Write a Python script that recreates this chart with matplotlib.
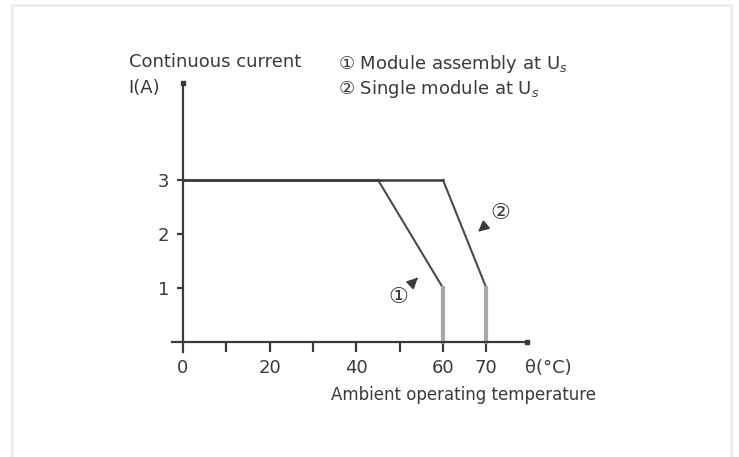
import matplotlib.pyplot as plt
from matplotlib.patches import Rectangle

plt.rcParams['font.family'] = ['DejaVu Sans', 'Noto Sans CJK SC']

# derating curves: temperature (°C) vs continuous current (A)
temp_assembly = [0, 45, 60, 60]
curr_assembly = [3, 3, 1, 0]
temp_single = [0, 60, 70, 70]
curr_single = [3, 3, 1, 0]

x_ticks = [0, 10, 20, 30, 40, 50, 60, 70]
x_labels = ['0', '', '20', '', '40', '', '60', '70']
y_ticks = [1, 2, 3]
y_labels = ['1', '2', '3']

dark = '#3a3a3a'
mid = '#4a4a4a'
light = '#a8a8a8'

fig = plt.figure(figsize=(7.39, 4.57), dpi=100)
# axes across the whole figure, limits chosen so the plot sits where it does in the picture
ax = fig.add_axes([0, 0, 1, 1])
ax.set_xlim(-42.2, 128.3)
ax.set_ylim(-2.13, 6.33)

for sp in ['top', 'right']:
    ax.spines[sp].set_visible(False)
ax.spines['left'].set_position(('data', 0))
ax.spines['bottom'].set_position(('data', 0))
ax.spines['left'].set_bounds(-0.18, 4.8)
ax.spines['bottom'].set_bounds(-2.5, 79.5)
for sp in ['left', 'bottom']:
    ax.spines[sp].set_color(dark)
    ax.spines[sp].set_linewidth(1.6)

ax.set_xticks(x_ticks)
ax.set_xticklabels(x_labels, fontsize=13, color=dark)
ax.set_yticks(y_ticks)
ax.set_yticklabels(y_labels, fontsize=13, color=dark)
ax.tick_params(axis='x', direction='out', length=7, width=1.6, colors=dark, pad=5)
ax.tick_params(axis='y', direction='out', length=4, width=1.6, colors=dark, pad=6)
ax.get_xticklines()[10].set_color(light)
ax.get_xticklines()[0].set_visible(False)

# arrow heads of the axes
ax.plot([0], [4.8], marker='s', ms=3, color=dark, clip_on=False)
ax.plot([79.5], [0], marker='s', ms=3, color=dark, clip_on=False)

# curves: flat part dark, sloped part a bit lighter, vertical drop light and thicker
for tx, cy in [(temp_assembly, curr_assembly), (temp_single, curr_single)]:
    ax.plot(tx[:2], cy[:2], color=dark, lw=1.8)
    ax.plot(tx[1:3], cy[1:3], color=mid, lw=1.5)
    ax.plot(tx[2:], cy[2:], color=light, lw=3)

ax.text(-12.5, 5.18, 'Continuous current', fontsize=13, color=dark, ha='left', va='center')
ax.text(-12.5, 4.7, 'I(A)', fontsize=13, color=dark, ha='left', va='center')
ax.text(35.8, 5.15, '\u2460 Module assembly at U$_s$', fontsize=13, color=dark, ha='left', va='center')
ax.text(35.8, 4.68, '\u2461 Single module at U$_s$', fontsize=13, color=dark, ha='left', va='center')
ax.text(84.3, -0.48, '\u03b8(\u00b0C)', fontsize=13, color=dark, ha='center', va='center')
ax.text(34.2, -0.98, 'Ambient operating temperature', fontsize=12, color=dark, ha='left', va='center')

ax.annotate('\u2461', xy=(68.1, 2.04), xytext=(73.2, 2.39), fontsize=16, color=dark,
            ha='center', va='center',
            arrowprops=dict(arrowstyle='-|>', color=dark, lw=1.2, shrinkA=6, shrinkB=0))
ax.annotate('\u2460', xy=(54.2, 1.19), xytext=(49.6, 0.83), fontsize=16, color=dark,
            ha='center', va='center',
            arrowprops=dict(arrowstyle='-|>', color=dark, lw=1.2, shrinkA=6, shrinkB=0))

# faint frame around the picture
fig.patches.append(Rectangle((12 / 739, -0.01), 719 / 739, 1 - 5 / 457 + 0.01,
                             transform=fig.transFigure, fill=False,
                             edgecolor='#ececec', lw=2))

fig.savefig('out.png', dpi=100)
